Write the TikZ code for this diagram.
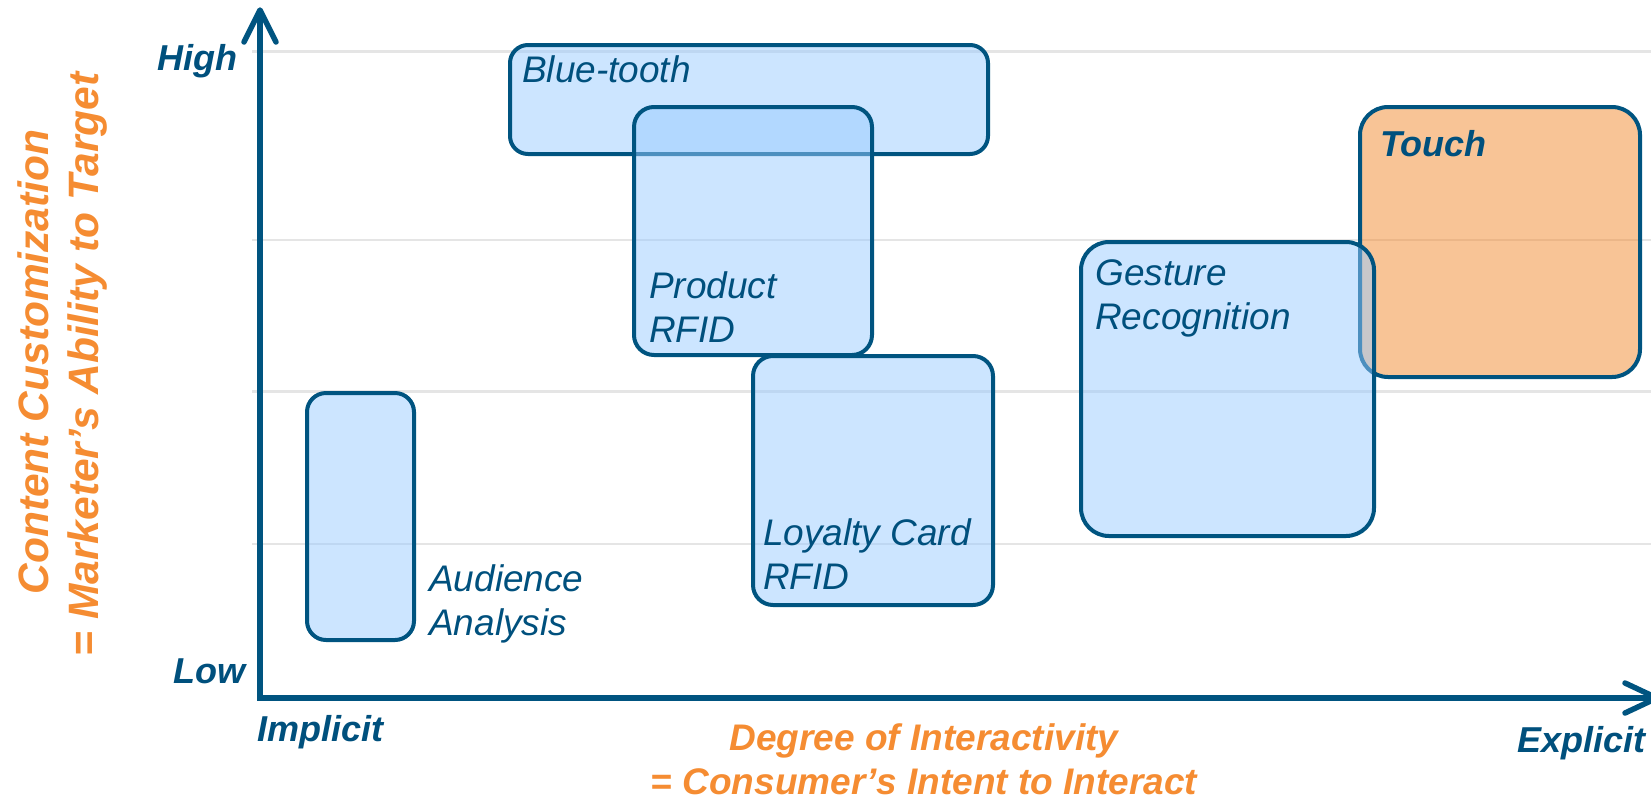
\documentclass[tikz,border=0pt]{standalone}
\usepackage{fontspec}
\setmainfont{Liberation Sans}
\definecolor{axisblue}{RGB}{0,84,128}
\definecolor{textblue}{RGB}{0,80,125}
\definecolor{boxfill}{RGB}{153,203,255}
\definecolor{touchfill}{RGB}{241,137,45}
\definecolor{labelorange}{RGB}{245,140,50}
\definecolor{gridgrey}{RGB}{229,229,229}
\tikzset{
  gridline/.style={draw=gridgrey, line width=2.5pt},
  axisline/.style={draw=axisblue, line width=5.5pt, line cap=round, line join=round},
  boxbase/.style={rectangle, draw=axisblue, line width=4pt, fill opacity=0.5, inner sep=0pt, anchor=north west},
  bluebox/.style={boxbase, fill=boxfill},
  orangebox/.style={boxbase, fill=touchfill},
  boxlabel/.style={text=textblue, font=\fontsize{37}{44}\selectfont\itshape, inner sep=0pt, anchor=base west},
  boldlabel/.style={text=textblue, font=\fontsize{36}{43}\selectfont\bfseries\itshape, inner sep=0pt},
  orangelabel/.style={text=labelorange, font=\fontsize{37}{44}\selectfont\bfseries\itshape, inner sep=0pt, anchor=base},
  orangeside/.style={orangelabel, font=\fontsize{42.5}{50}\selectfont\bfseries\itshape, rotate=90}
}
\begin{document}
\begin{tikzpicture}[x=1pt, y=-1pt]
\useasboundingbox (0,0) rectangle (1651,796);
% grid lines
\coordinate (g1a) at (252,51.5); \coordinate (g1b) at (1651,51.5);
\coordinate (g2a) at (252,240);  \coordinate (g2b) at (1651,240);
\coordinate (g3a) at (252,391.5);\coordinate (g3b) at (1651,391.5);
\coordinate (g4a) at (252,544);  \coordinate (g4b) at (1651,544);
\draw[gridline] (g1a) -- (g1b);
\draw[gridline] (g2a) -- (g2b);
\draw[gridline] (g3a) -- (g3b);
\draw[gridline] (g4a) -- (g4b);
% boxes
\node[bluebox, rounded corners=18pt, minimum width=478pt, minimum height=109pt] (bluetooth) at (508,43) {};
\node[bluebox, rounded corners=20pt, minimum width=238pt, minimum height=248pt] (product) at (632,105) {};
\node[bluebox, rounded corners=20pt, minimum width=240pt, minimum height=249pt] (loyalty) at (751,354) {};
\node[bluebox, rounded corners=19pt, minimum width=107pt, minimum height=247pt] (audience) at (305,391) {};
\node[orangebox, rounded corners=28pt, minimum width=280pt, minimum height=270pt] (touch) at (1358,105) {};
\node[bluebox, rounded corners=28pt, minimum width=293pt, minimum height=294pt] (gesture) at (1079,240) {};
% axes
\coordinate (origin) at (260,698);
\coordinate (ytip) at (260,10);
\coordinate (ya) at (244,42);
\coordinate (yb) at (276,42);
\coordinate (xtip) at (1657,698);
\coordinate (xa) at (1625,683);
\coordinate (xb) at (1625,713);
\draw[axisline, line cap=butt, line join=miter] (ytip) -- (origin) -- (xtip);
\draw[axisline] (ya) -- (ytip) -- (yb);
\draw[axisline] (xa) -- (xtip) -- (xb);
% box labels
\node[boxlabel] (btlab) at (522,82) {Blue-tooth};
\node[boxlabel] (prodlab1) at (649,298) {Product};
\node[boxlabel] (prodlab2) at (649,342) {RFID};
\node[boxlabel] (loylab1) at (763,545) {Loyalty Card};
\node[boxlabel] (loylab2) at (763,589) {RFID};
\node[boxlabel] (audlab1) at (429,591) {Audience};
\node[boxlabel] (audlab2) at (429,635) {Analysis};
\node[boxlabel] (geslab1) at (1095,285) {Gesture};
\node[boxlabel] (geslab2) at (1095,329) {Recognition};
\node[boldlabel, anchor=base west] (touchlab) at (1380,156) {Touch};
% axis labels
\node[boldlabel, anchor=base east] (high) at (238,70) {High};
\node[boldlabel, anchor=base east] (low) at (246,683) {Low};
\node[boldlabel, anchor=base west] (implicit) at (257,741) {Implicit};
\node[boldlabel, anchor=base east] (explicit) at (1646,752) {Explicit};
% axis titles
\node[orangelabel] (xt1) at (924,750) {Degree of Interactivity};
\node[orangelabel] (xt2) at (924,794) {= Consumer’s Intent to Interact};
\node[orangeside] (yt1) at (48,362) {Content Customization};
\node[orangeside] (yt2) at (98,364.5) {= Marketer’s Ability to Target};
\end{tikzpicture}
\end{document}
